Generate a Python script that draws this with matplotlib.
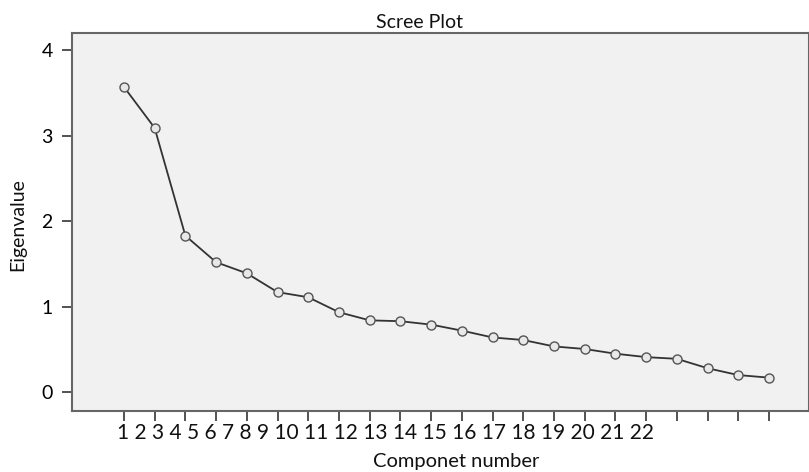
import numpy as np
import matplotlib.pyplot as plt

# scree plot values
components = list(range(1, 23))
eigenvalues = [3.57, 3.09, 1.83, 1.52, 1.39, 1.17, 1.11, 0.935, 0.84, 0.83, 0.79,
               0.72, 0.64, 0.61, 0.535, 0.505, 0.45, 0.41, 0.39, 0.28, 0.20, 0.17]
tick_labels = [str(c) for c in components]
y_ticks = [0, 1, 2, 3, 4]

plt.rcParams['font.family'] = ['Lato', 'DejaVu Sans']

fig = plt.figure(figsize=(8.09, 4.72), dpi=100)
ax = fig.add_axes([72 / 809, 1 - 411 / 472, 737 / 809, 378 / 472])
ax.set_facecolor('#f1f1f1')

ax.plot(components, eigenvalues, color='#333333', linewidth=1.3, marker='o',
        markersize=6.5, markerfacecolor='#e8e8e8', markeredgecolor='#555555',
        markeredgewidth=1.0)

ax.set_xlim(-0.69, 23.3)
ax.set_ylim(-0.22, 4.2)
ax.set_yticks(y_ticks)
ax.set_xticks(components)
ax.set_xticklabels([''] * len(components))
ax.tick_params(axis='both', direction='out', length=7, width=1.3, color='#444444',
               labelsize=14)
ax.tick_params(axis='y', pad=7)

for side in ['left', 'bottom', 'top', 'right']:
    ax.spines[side].set_color('#666666')
    ax.spines[side].set_linewidth(1.5)

# tick labels in the original sit packed together under the left part of the axis
fig.text(117 / 809, 1 - 433 / 472, ' '.join(tick_labels), fontsize=15,
         ha='left', va='center', color='#111111')

fig.text(420 / 809, 1 - 22 / 472, 'Scree Plot', fontsize=14, ha='center',
         va='center', color='#111111')
fig.text(456 / 809, 1 - 462 / 472, 'Componet number', fontsize=14.5, ha='center',
         va='center', color='#111111')
fig.text(18 / 809, 1 - 225 / 472, 'Eigenvalue', fontsize=14, ha='center',
         va='center', rotation=90, color='#111111')

fig.savefig('out.png', dpi=100)
plt.close(fig)
